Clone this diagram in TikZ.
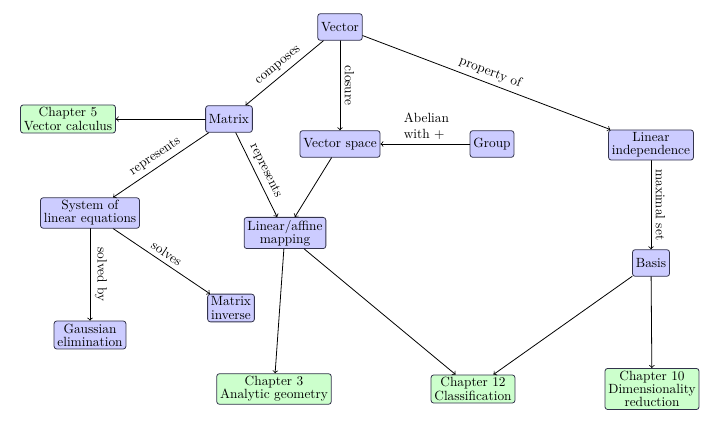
\documentclass[tikz,border=0pt]{standalone}
\usetikzlibrary{arrows}
\definecolor{ccccff}{rgb}{0.8,0.8,1}
\definecolor{ccffcc}{rgb}{0.8,1,0.8}
\definecolor{qqqqzz}{rgb}{0.2,0.2,0.3}
\begin{document}
\begin{tikzpicture}[line cap=round,line join=round,>=to,x=0.75pt,y=-0.75pt,line width=0.6pt,
  concept/.style={draw=qqqqzz,fill=ccccff,rounded corners=2pt,align=center,
    inner xsep=2.5pt,inner ysep=2pt,minimum height=20pt,
    font=\linespread{0.82}\selectfont},
  chapter/.style={concept,fill=ccffcc}]
\useasboundingbox (0,0) rectangle (710,423);

% concepts
\node[concept] (vector) at (340,27) {Vector};
\node[concept] (matrix) at (229,119) {Matrix};
\node[chapter] (ch5) at (68,119) {Chapter 5\\Vector calculus};
\node[concept] (vspace) at (340,144) {Vector space};
\node[concept] (group) at (492,144) {Group};
\node[concept] (linind) at (651,145) {Linear\\independence};
\node[concept] (system) at (90,213) {System of\\linear equations};
\node[concept] (linmap) at (285,233) {Linear/affine\\mapping};
\node[concept] (basis) at (651,263) {Basis};
\node[concept] (inverse) at (231,308) {Matrix\\inverse};
\node[concept] (gauss) at (90,335) {Gaussian\\elimination};

% chapters
\node[chapter] (ch3) at (274,389) {Chapter 3\\Analytic geometry};
\node[chapter] (ch12) at (473,389) {Chapter 12\\Classification};
\node[chapter] (ch10) at (652,389) {Chapter 10\\Dimensionality\\reduction};

% links
\draw[->] (vector) -- node[above,sloped] {composes} (matrix);
\draw[->] (vector) -- node[above,sloped] {closure} (vspace);
\draw[->] (vector) -- node[above,sloped] {property of} (linind);
\draw[->] (matrix) -- (ch5);
\draw[->] (group) -- node[above,align=left,xshift=1pt] {Abelian\\with $+$} (vspace);
\draw[->] (matrix) -- node[above,sloped] {represents} (system);
\draw[->] (matrix) -- node[above,sloped] {represents} (linmap);
\draw[->] (vspace) -- (linmap);
\draw[->] (linind) -- node[above,sloped] {maximal set} (basis);
\draw[->] (system) -- node[above,sloped] {solved by} (gauss);
\draw[->] (system) -- node[above,sloped] {solves} (inverse);
\draw[->] (linmap) -- (ch3);
\draw[->] (linmap) -- (ch12);
\draw[->] (basis) -- (ch12);
\draw[->] (basis) -- (ch10);
\end{tikzpicture}
\end{document}
